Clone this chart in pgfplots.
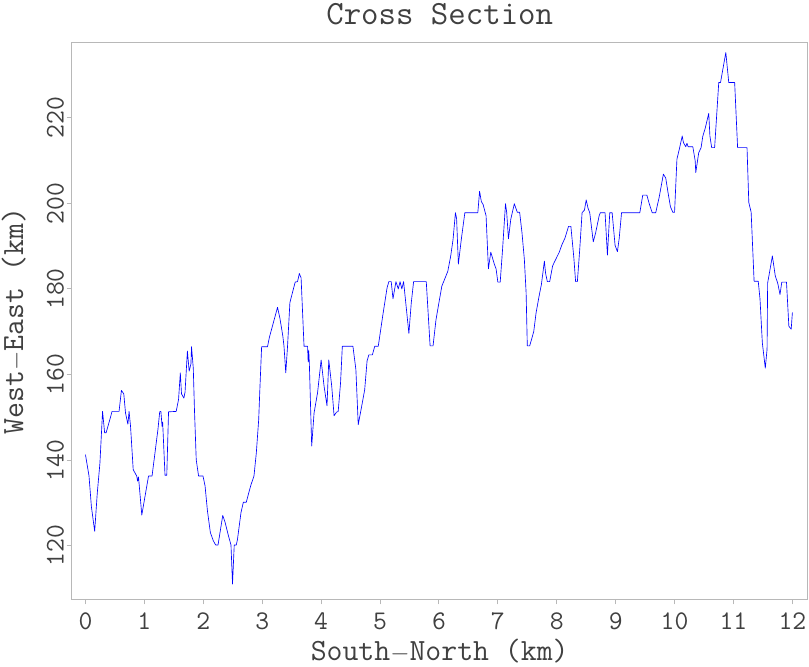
\documentclass[border=0pt]{standalone}
\usepackage{pgfplots}
\pgfplotsset{compat=1.18}
\usepackage{fontspec}
\definecolor{txt}{gray}{0.25}
\definecolor{frame}{gray}{0.72}
\begin{document}
\begin{tikzpicture}
\begin{axis}[
  scale only axis,
  width=736bp, height=556.7bp,
  xmin=-0.234, xmax=12.26,
  ymin=107.5, ymax=237.5,
  xtick={0,1,2,3,4,5,6,7,8,9,10,11,12},
  ytick={120,140,160,180,200,220},
  axis line style={frame, line width=1.3bp},
  tick style={frame, line width=1bp},
  tick align=outside,
  major tick length=5bp,
  xtick pos=bottom, ytick pos=left,
  /pgf/number format/assume math mode=true,
  tick label style={font=\fontsize{27}{30}\selectfont\ttfamily, text=txt},
  xticklabel style={anchor=base, yshift=-25bp},
  yticklabel style={rotate=90, anchor=base},
  yticklabel shift=3bp,
  title={Cross Section},
  title style={at={([yshift=12bp]axis description cs:0.5,1)}, anchor=base, font=\fontsize{34}{37}\selectfont\ttfamily, text=txt},
  xlabel={South$-$North (km)},
  xlabel style={at={([yshift=-61bp]axis description cs:0.5,0)}, anchor=base, font=\fontsize{31}{34}\selectfont\ttfamily, text=txt},
  ylabel={West$-$East (km)},
  ylabel style={at={([xshift=-48.5bp]axis description cs:0,0.5)}, anchor=base, font=\fontsize{31}{34}\selectfont\ttfamily, text=txt},
  clip=false,
]
\addplot[color=blue, line width=0.65bp, line join=round] coordinates {
(0.00,141.3) (0.06,136.3) (0.10,129.2) (0.156,123.4) (0.20,132.3) (0.245,139.3)
(0.29,151.4) (0.325,146.4) (0.35,146.4) (0.43,150.3) (0.45,151.4) (0.57,151.4)
(0.61,156.3) (0.65,155.5) (0.68,151.0) (0.72,148.4) (0.74,151.4) (0.765,147.9)
(0.81,137.8) (0.87,136.3) (0.885,135.1) (0.90,136.1) (0.956,127.2) (1.07,136.3)
(1.13,136.3) (1.23,147.2) (1.26,151.3) (1.28,151.4) (1.30,147.9) (1.31,148.9)
(1.35,136.5) (1.38,136.5) (1.41,151.3) (1.54,151.4) (1.58,154.2) (1.61,160.4)
(1.63,155.5) (1.67,154.5) (1.69,155.9) (1.73,165.5) (1.76,160.8) (1.79,162.5)
(1.80,166.5) (1.83,161.5) (1.85,151.8) (1.88,140.1) (1.92,136.3) (1.995,136.3)
(2.03,134.0) (2.07,128.2) (2.12,123.1) (2.17,121.2) (2.21,120.2) (2.25,120.2)
(2.33,127.1) (2.37,125.5) (2.43,122.2) (2.47,120.2) (2.496,111.1) (2.525,120.2)
(2.56,120.2) (2.58,121.5) (2.64,127.8) (2.68,130.2) (2.73,130.2) (2.77,132.3)
(2.81,134.3) (2.86,136.3) (2.90,141.7) (2.94,149.4) (2.96,156.5) (2.99,166.5)
(3.09,166.5) (3.12,168.6) (3.26,175.7) (3.30,173.2) (3.35,169.0) (3.37,166.6)
(3.40,160.4) (3.43,166.6) (3.47,176.8) (3.52,179.5) (3.56,181.6) (3.60,181.7)
(3.63,183.6) (3.66,182.6) (3.71,166.6) (3.77,166.6) (3.78,163.0) (3.79,165.6)
(3.80,162.7) (3.84,143.3) (3.88,151.0) (3.94,155.8) (4.00,163.4) (4.05,157.3)
(4.10,152.7) (4.13,163.4) (4.18,157.3) (4.22,150.4) (4.26,151.2) (4.29,151.4)
(4.33,158.1) (4.36,166.6) (4.54,166.6) (4.59,161.2) (4.63,148.3) (4.69,152.7)
(4.74,156.5) (4.78,163.2) (4.81,164.6) (4.87,164.6) (4.91,166.6) (4.97,166.6)
(5.05,174.1) (5.12,180.3) (5.15,181.7) (5.19,181.7) (5.22,177.7) (5.27,181.7)
(5.31,180.0) (5.34,181.7) (5.37,180.0) (5.40,181.7) (5.43,177.7) (5.49,169.6)
(5.53,176.7) (5.57,181.7) (5.785,181.7) (5.85,166.7) (5.90,166.7) (5.95,172.8)
(6.00,176.8) (6.05,180.7) (6.08,181.7) (6.15,184.1) (6.20,187.7) (6.24,191.6)
(6.28,197.8) (6.30,196.4) (6.33,185.8) (6.38,191.6) (6.44,197.8) (6.66,197.8)
(6.69,202.8) (6.72,200.4) (6.75,199.7) (6.80,197.1) (6.84,184.7) (6.88,188.6)
(6.94,185.8) (6.97,184.7) (7.00,181.6) (7.04,181.6) (7.08,189.2) (7.13,199.9)
(7.15,197.9) (7.18,191.7) (7.22,196.3) (7.28,199.9) (7.33,197.9) (7.37,197.9)
(7.41,193.1) (7.45,186.9) (7.48,179.1) (7.50,166.7) (7.54,166.7) (7.57,168.1)
(7.61,170.1) (7.65,174.5) (7.70,178.3) (7.74,181.1) (7.79,186.5) (7.81,183.7)
(7.84,181.7) (7.88,181.7) (7.93,185.4) (8.00,187.4) (8.04,188.5) (8.09,190.4)
(8.14,191.9) (8.20,194.6) (8.24,194.6) (8.29,187.3) (8.32,181.7) (8.35,181.7)
(8.39,189.2) (8.43,197.8) (8.47,198.4) (8.50,200.8) (8.53,198.9) (8.56,197.8)
(8.62,191.0) (8.66,193.1) (8.72,197.1) (8.74,197.8) (8.82,197.8) (8.86,187.9)
(8.90,197.8) (8.94,197.8) (8.99,190.2) (9.03,188.7) (9.06,191.8) (9.10,197.8)
(9.41,197.8) (9.46,201.9) (9.53,201.9) (9.57,199.9) (9.62,197.8) (9.68,197.8)
(9.74,201.5) (9.81,206.8) (9.85,205.9) (9.89,202.4) (9.93,199.2) (9.97,197.9)
(10.00,197.9) (10.04,210.3) (10.08,212.6) (10.13,215.7) (10.15,214.2) (10.19,213.2)
(10.21,214.0) (10.23,213.2) (10.31,213.2) (10.35,209.9) (10.36,207.2) (10.41,211.8)
(10.45,213.0) (10.48,215.7) (10.52,217.5) (10.58,221.0) (10.60,215.7) (10.63,213.0)
(10.68,213.0) (10.75,228.2) (10.78,228.2) (10.87,235.2) (10.92,228.2) (11.02,228.2)
(11.07,213.0) (11.23,213.0) (11.26,200.2) (11.30,197.9) (11.35,181.8) (11.42,181.8)
(11.45,177.7) (11.49,167.4) (11.54,161.5) (11.57,165.9) (11.58,181.4) (11.62,184.5)
(11.66,187.7) (11.71,183.0) (11.75,181.4) (11.79,178.7) (11.82,181.6) (11.90,181.6)
(11.94,171.3) (11.98,170.6) (12.00,174.5)
};
\end{axis}
\pgfresetboundingbox
\path[use as bounding box] (-71.7bp,-67bp) rectangle (737.3bp,599.4bp);
\end{tikzpicture}
\end{document}
